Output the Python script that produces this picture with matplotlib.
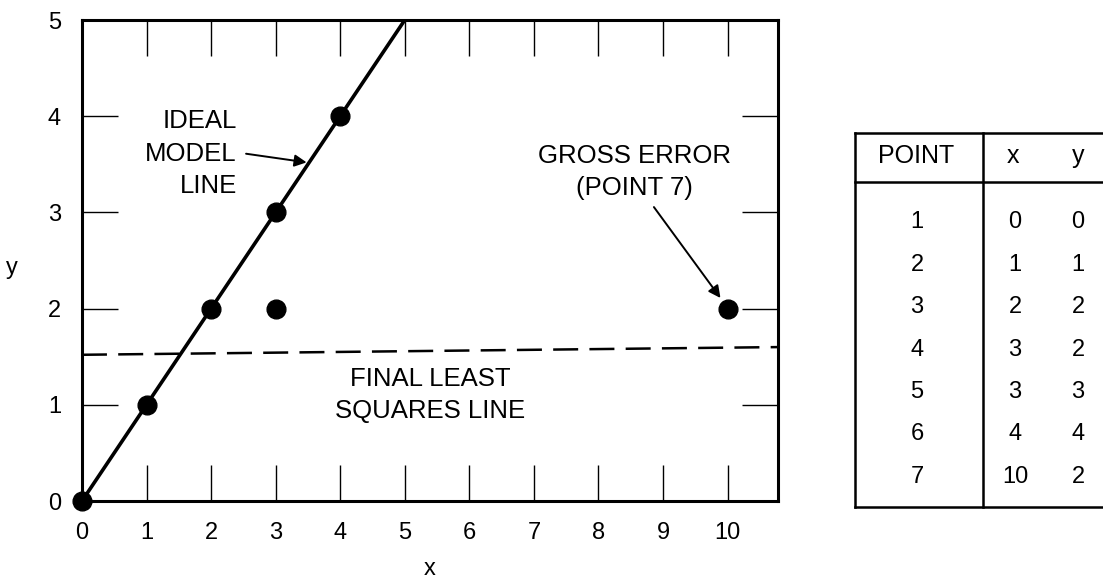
#!/usr/bin/env python3

import matplotlib.pyplot as plt
import numpy as np

plt.rcParams['font.family'] = ['Liberation Sans', 'DejaVu Sans']

# observed points (also listed in the table)
point_ids = [1, 2, 3, 4, 5, 6, 7]
pts_x = [0, 1, 2, 3, 3, 4, 10]
pts_y = [0, 1, 2, 2, 3, 4, 2]

# ideal model line y = x
ideal_x = [0, 5]
ideal_y = [0, 5]

# final least squares line
ls_x = [0, 10.78]
ls_y = [1.52, 1.60]

x_ticks = list(range(0, 11))
y_ticks = list(range(0, 6))

fig = plt.figure(figsize=(11.03, 5.80), dpi=100)
ax = fig.add_axes([0.0743, 0.1362, 0.631, 0.8293])

ax.plot(ideal_x, ideal_y, 'k-', lw=2.6, zorder=3)
ax.plot(ls_x, ls_y, 'k--', lw=1.8, dashes=(10, 4.5), zorder=3)
ax.plot(pts_x, pts_y, 'ko', ms=13.5, clip_on=False, zorder=5)

ax.set_xlim(0, 10.78)
ax.set_ylim(0, 5)
ax.set_xticks(x_ticks)
ax.set_yticks(y_ticks)
ax.tick_params(direction='in', length=26, width=1.0, labelsize=17,
               top=True, right=True)
ax.tick_params(axis='x', pad=15)
ax.tick_params(axis='y', pad=15)
for s in ax.spines.values():
    s.set_linewidth(2.2)

ax.set_xlabel('x', fontsize=17, labelpad=10)
ax.set_ylabel('y', fontsize=17, rotation=0, ha='center', va='center')
ax.yaxis.set_label_coords(-0.100, 0.484)

# annotations
ax.annotate('IDEAL\nMODEL\nLINE', xy=(3.48, 3.52), xytext=(2.40, 3.61),
            ha='right', va='center', fontsize=18.5, linespacing=1.45,
            arrowprops=dict(arrowstyle='-|>', color='k', lw=1.4,
                            mutation_scale=18, shrinkA=0, shrinkB=0,
                            relpos=(1.1, 0.5)))
ax.annotate('GROSS ERROR\n(POINT 7)', xy=(9.89, 2.11), xytext=(8.56, 3.42),
            ha='center', va='center', fontsize=18.5, linespacing=1.45,
            arrowprops=dict(arrowstyle='-|>', color='k', lw=1.4,
                            mutation_scale=18, shrinkA=0, shrinkB=0,
                            relpos=(0.6, -0.12)))
ax.text(5.39, 1.10, 'FINAL LEAST\nSQUARES LINE', ha='center', va='center',
        fontsize=18.5, linespacing=1.45)

# table of points, drawn in pixel units
tb = fig.add_axes([855 / 1103, 1 - 507 / 580, (1110 - 855) / 1103, (507 - 133) / 580])
tb.set_xlim(855, 1110)
tb.set_ylim(507, 133)
tb.axis('off')
k = dict(color='k', lw=1.8, clip_on=False)
tb.plot([855, 1110], [133, 133], **k)
tb.plot([855, 1110], [507, 507], **k)
tb.plot([855, 855], [133, 507], **k)
tb.plot([855, 1110], [182, 182], **k)
tb.plot([983, 983], [133, 507], **k)
tb.text(916, 156, 'POINT', ha='center', va='center', fontsize=18)
tb.text(1013, 156, 'x', ha='center', va='center', fontsize=18)
tb.text(1078, 156, 'y', ha='center', va='center', fontsize=18)
for i, (p, xv, yv) in enumerate(zip(point_ids, pts_x, pts_y)):
    yy = 222 + i * 42.5
    tb.text(917, yy, str(p), ha='center', va='center', fontsize=17)
    tb.text(1015, yy, str(xv), ha='center', va='center', fontsize=17)
    tb.text(1078, yy, str(yv), ha='center', va='center', fontsize=17)

fig.savefig('out.png', dpi=100)
